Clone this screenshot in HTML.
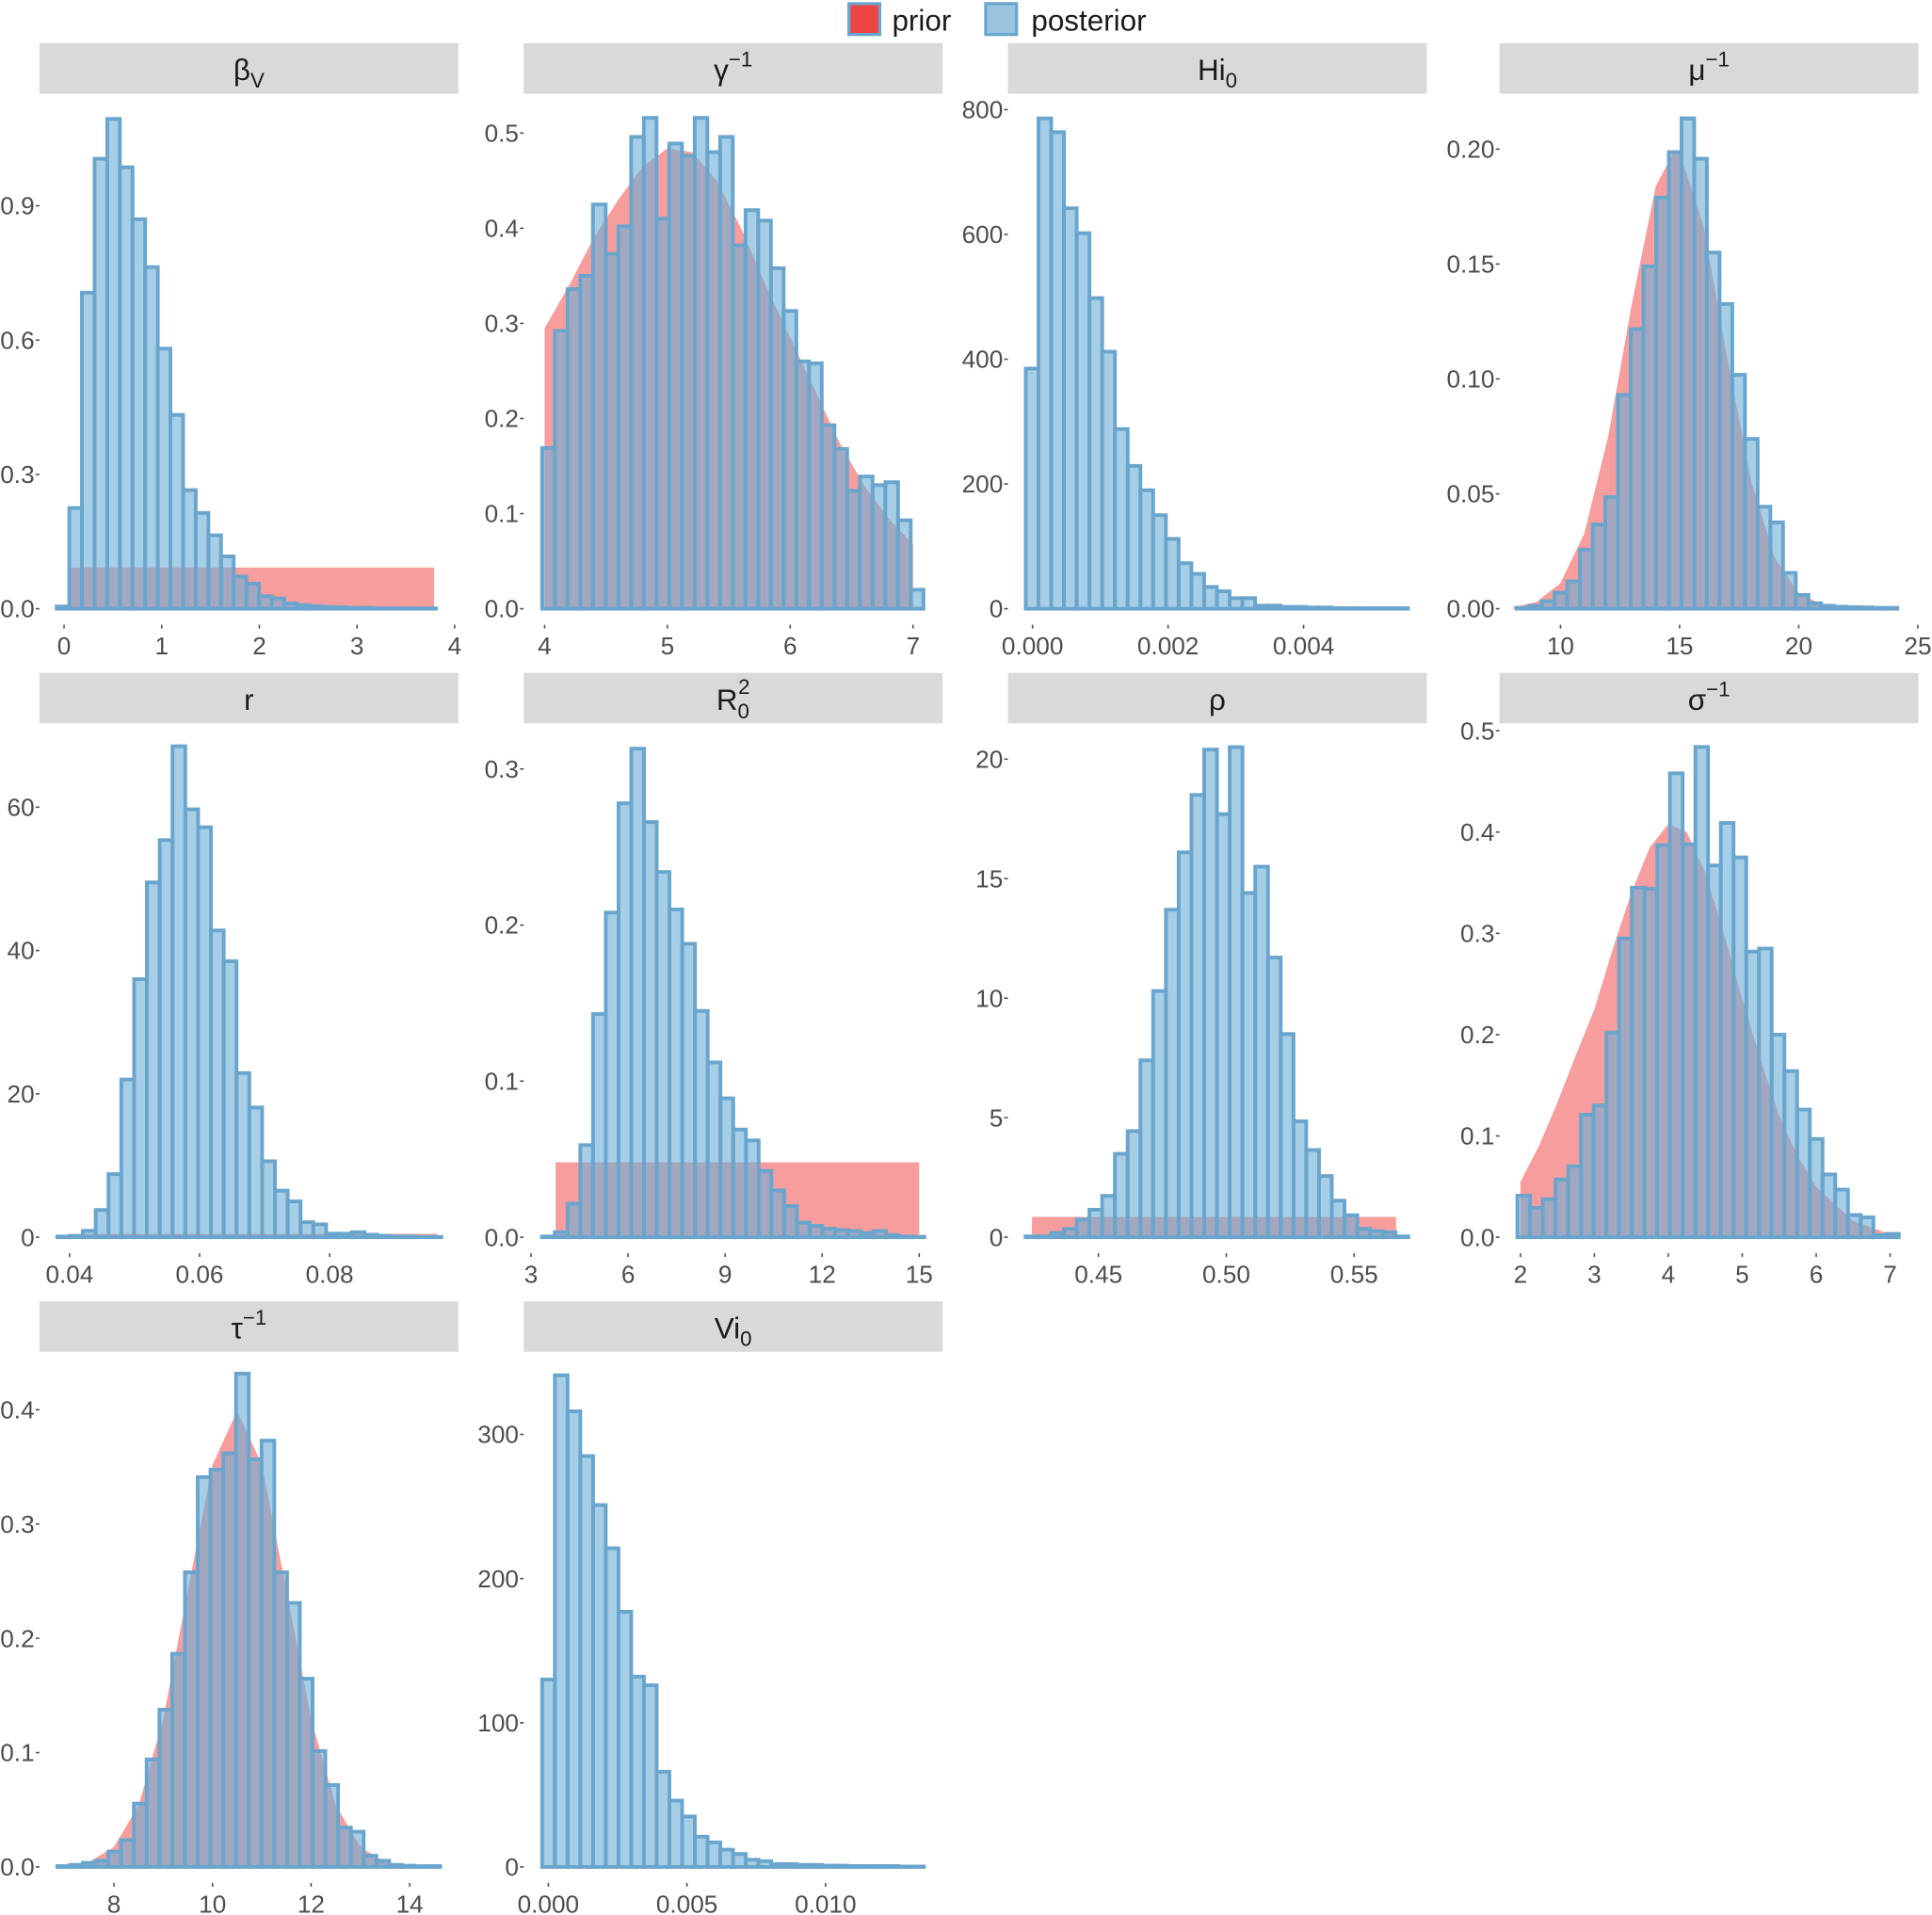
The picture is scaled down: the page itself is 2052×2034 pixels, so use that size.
<!DOCTYPE html>
<html><head><meta charset="utf-8"><style>
html,body{margin:0;padding:0;background:#fff;}
svg{display:block;font-family:"Liberation Sans",sans-serif;}
</style></head><body>
<svg id="chart" xmlns="http://www.w3.org/2000/svg" width="2052" height="2034" viewBox="0 0 1568 1554" preserveAspectRatio="none">
<g>
 <rect x="689" y="3" width="25" height="25" fill="#ef4444" stroke="#6aa5cd" stroke-width="2.5"/>
 <text x="724" y="25" font-size="24" fill="#1a1a1a">prior</text>
 <rect x="800" y="3" width="25" height="25" fill="#9ac5e0" stroke="#6aa5cd" stroke-width="2.5"/>
 <text x="837" y="25" font-size="24" fill="#1a1a1a">posterior</text>
</g>
</svg>
<script>
// ---------- data ----------
const betaV_counts=[0.005,0.225,0.706,1.005,1.094,0.986,0.870,0.763,0.581,0.433,0.265,0.214,0.164,0.117,0.072,0.056,0.028,0.023,0.012,0.008,0.006,0.004,0.003,0.002,0.002,0.001,0.001,0.001,0.001,0.001];
const betaV_xticks=[0,1,2,3,4];
const betaV_yticks=[0,0.3,0.6,0.9];
const betaV_ylabels=["0.0","0.3","0.6","0.9"];
const betaV_prior=[0.04,3.79,0.092];

const gamma_counts=[0.169,0.292,0.336,0.350,0.425,0.373,0.402,0.496,0.516,0.410,0.489,0.476,0.516,0.480,0.496,0.382,0.419,0.408,0.358,0.313,0.260,0.258,0.193,0.168,0.124,0.139,0.130,0.133,0.093,0.020];
const gamma_xticks=[4,5,6,7];
const gamma_yticks=[0,0.1,0.2,0.3,0.4,0.5];
const gamma_ylabels=["0.0","0.1","0.2","0.3","0.4","0.5"];
const gamma_prior_x=[4,4.2,4.4,4.6,4.8,5.0,5.2,5.4,5.6,5.8,6.0,6.2,6.4,6.6,6.8,7.0];
const gamma_prior_y=[0.295,0.34,0.39,0.43,0.465,0.484,0.48,0.45,0.40,0.34,0.285,0.23,0.175,0.13,0.095,0.068];

const hi0_counts=[385,786,764,642,602,498,412,288,229,190,150,112,73,56,35,28,17,17,5,5,3,3,2,2,1,1,1,1,1,1];
const hi0_xticks=[0,0.002,0.004];
const hi0_xlabels=["0.000","0.002","0.004"];
const hi0_yticks=[0,200,400,600,800];

const mu_counts=[0.0004,0.0013,0.0033,0.007,0.0119,0.0257,0.0367,0.0486,0.093,0.1217,0.149,0.1789,0.1987,0.2134,0.1958,0.155,0.1326,0.1018,0.0739,0.0444,0.0376,0.0156,0.006,0.0024,0.0013,0.0009,0.0007,0.0006,0.0004,0.0004];
const mu_xticks=[10,15,20,25];
const mu_yticks=[0,0.05,0.10,0.15,0.20];
const mu_ylabels=["0.00","0.05","0.10","0.15","0.20"];
const mu_prior_x=[8,9,10,11,12,13,14,14.8,15,16,17,18,19,20,21,22];
const mu_prior_y=[0.0006,0.003,0.0112,0.0328,0.0749,0.133,0.184,0.1995,0.1985,0.1667,0.109,0.0555,0.022,0.0068,0.0016,0.0003];

const r_counts=[0.1,0.2,0.9,3.8,8.8,22,36,49.5,55.4,68.5,59.7,57.2,42.8,38.5,22.9,18.1,10.6,6.5,5,2.1,1.8,0.5,0.5,0.7,0.35,0.2,0.1,0.1,0.05,0.05];
const r_xticks=[0.04,0.06,0.08];
const r_xlabels=["0.04","0.06","0.08"];
const r_yticks=[0,20,40,60];
const r_prior=[0.042,0.0965,0.47];

const r0_counts=[0.0005,0.0032,0.0215,0.059,0.143,0.208,0.278,0.313,0.266,0.234,0.210,0.188,0.145,0.112,0.089,0.069,0.062,0.0425,0.030,0.020,0.0094,0.0073,0.0054,0.0046,0.004,0.0027,0.004,0.0013,0.0005,0.0003];
const r0_xticks=[3,6,9,12,15];
const r0_yticks=[0,0.1,0.2,0.3];
const r0_ylabels=["0.0","0.1","0.2","0.3"];
const r0_prior=[3.76,15,0.048];

const rho_counts=[0.035,0.035,0.18,0.35,0.74,1.15,1.73,3.49,4.44,7.4,10.3,13.7,16.1,18.5,20.4,17.7,20.5,14.4,15.5,11.7,8.5,4.85,3.65,2.56,1.53,0.92,0.35,0.26,0.21,0.035];
const rho_xticks=[0.45,0.50,0.55];
const rho_xlabels=["0.45","0.50","0.55"];
const rho_yticks=[0,5,10,15,20];
const rho_prior=[0.424,0.5664,0.85];

const sigma_counts=[0.041,0.029,0.0375,0.057,0.07,0.121,0.130,0.202,0.295,0.345,0.344,0.387,0.458,0.388,0.484,0.367,0.409,0.375,0.282,0.285,0.200,0.164,0.126,0.097,0.062,0.047,0.022,0.0196,0.0021,0.0033];
const sigma_xticks=[2,3,4,5,6,7];
const sigma_yticks=[0,0.1,0.2,0.3,0.4,0.5];
const sigma_ylabels=["0.0","0.1","0.2","0.3","0.4","0.5"];
const sigma_prior_x=[2,2.25,2.5,2.75,3,3.25,3.5,3.75,4,4.25,4.5,4.75,5,5.25,5.5,5.75,6,6.5,7];
const sigma_prior_y=[0.055,0.09,0.133,0.18,0.225,0.285,0.34,0.385,0.408,0.40,0.36,0.30,0.235,0.175,0.12,0.08,0.05,0.016,0.003];

const tau_counts=[0.0007,0.0018,0.0036,0.0054,0.0134,0.0235,0.0554,0.0941,0.1376,0.1865,0.2578,0.341,0.3476,0.362,0.4316,0.3566,0.373,0.2578,0.2310,0.1647,0.1014,0.0717,0.0344,0.0308,0.0098,0.0054,0.0018,0.0011,0.0007,0.0007];
const tau_xticks=[8,10,12,14];
const tau_yticks=[0,0.1,0.2,0.3,0.4];
const tau_ylabels=["0.0","0.1","0.2","0.3","0.4"];
const tau_prior_x=[7,7.5,8,8.5,9,9.5,10,10.5,11,11.5,12,12.5,13,13.5,14];
const tau_prior_y=[0.0009,0.0044,0.0175,0.054,0.1295,0.242,0.352,0.399,0.352,0.242,0.1295,0.054,0.0175,0.0044,0.0009];

const vi0_counts=[130,341,316,285,251,221,177,132,126,66,46,35,21,17,12,9,5,4,2,2,1.4,1.4,0.9,0.9,0.6,0.6,0.6,0.6,0.3,0.3];
const vi0_xticks=[0,0.005,0.010];
const vi0_xlabels=["0.000","0.005","0.010"];
const vi0_yticks=[0,100,200,300];

// ---------- layout (pixel calibration, not data) ----------
const colX=[32,425,818,1217];
const rowY=[35,546,1056];
const baseY=[494,1004,1515];
const panels=[
 {key:'beta-v',title:['β',{sub:'V'}],c:0,r:0,xv:[0,4],xp:[52,369],yv:[0,0.9],yp:[494,167],start:-0.076,w:0.1295,counts:betaV_counts,xt:betaV_xticks,yt:betaV_yticks,yl:betaV_ylabels,rect:betaV_prior},
 {key:'gamma-inv',title:['γ',{sup:'−1'}],c:1,r:0,xv:[4,7],xp:[442,741],yv:[0,0.5],yp:[494,108],start:3.98,w:0.1035,counts:gamma_counts,xt:gamma_xticks,yt:gamma_yticks,yl:gamma_ylabels,cx:gamma_prior_x,cy:gamma_prior_y},
 {key:'hi0',title:['Hi',{sub:'0'}],c:2,r:0,xv:[0,0.004],xp:[838,1058],yv:[0,800],yp:[494,89],start:-0.0001,w:0.000188,counts:hi0_counts,xt:hi0_xticks,xl:hi0_xlabels,yt:hi0_yticks},
 {key:'mu-inv',title:['μ',{sup:'−1'}],c:3,r:0,xv:[10,25],xp:[1266.5,1556.5],yv:[0,0.2],yp:[494,121],start:8.15,w:0.533,counts:mu_counts,xt:mu_xticks,yt:mu_yticks,yl:mu_ylabels,cx:mu_prior_x,cy:mu_prior_y},
 {key:'r',title:['r'],c:0,r:1,xv:[0.04,0.08],xp:[56.5,267.5],yv:[0,60],yp:[1004,655],start:0.0381,w:0.00197,counts:r_counts,xt:r_xticks,xl:r_xlabels,yt:r_yticks,rect:r_prior},
 {key:'r0-squared',title:['R',{subsup:['0','2']}],c:1,r:1,xv:[3,15],xp:[431,746],yv:[0,0.3],yp:[1004,624],start:3.34,w:0.394,counts:r0_counts,xt:r0_xticks,yt:r0_yticks,yl:r0_ylabels,rect:r0_prior},
 {key:'rho',title:['ρ'],c:2,r:1,xv:[0.45,0.55],xp:[891.5,1099],yv:[0,20],yp:[1004,616],start:0.4215,w:0.00499,counts:rho_counts,xt:rho_xticks,xl:rho_xlabels,yt:rho_yticks,rect:rho_prior},
 {key:'sigma-inv',title:['σ',{sup:'−1'}],c:3,r:1,xv:[2,7],xp:[1234,1534],yv:[0,0.5],yp:[1004,593],start:1.958,w:0.172,counts:sigma_counts,xt:sigma_xticks,yt:sigma_yticks,yl:sigma_ylabels,cx:sigma_prior_x,cy:sigma_prior_y},
 {key:'tau-inv',title:['τ',{sup:'−1'}],c:0,r:2,xv:[8,14],xp:[92.5,332.5],yv:[0,0.4],yp:[1515,1144],start:6.85,w:0.259,counts:tau_counts,xt:tau_xticks,yt:tau_yticks,yl:tau_ylabels,cx:tau_prior_x,cy:tau_prior_y},
 {key:'vi0',title:['Vi',{sub:'0'}],c:1,r:2,xv:[0,0.01],xp:[445,670],yv:[0,300],yp:[1515,1164],start:-0.000222,w:0.000459,counts:vi0_counts,xt:vi0_xticks,xl:vi0_xlabels,yt:vi0_yticks}
];

const NS='http://www.w3.org/2000/svg';
const svg=document.getElementById('chart');
function mk(tag,attrs,parent){const e=document.createElementNS(NS,tag);for(const k in attrs)e.setAttribute(k,attrs[k]);parent.appendChild(e);return e;}
function xScale(p){return v=>p.xp[0]+(v-p.xv[0])*(p.xp[1]-p.xp[0])/(p.xv[1]-p.xv[0]);}
function yScale(p){return v=>p.yp[0]+(v-p.yv[0])*(p.yp[1]-p.yp[0])/(p.yv[1]-p.yv[0]);}

panels.forEach(p=>{
 const X=xScale(p),Y=yScale(p);
 const g=mk('g',{},svg);
 
 
 const sx=colX[p.c],sy=rowY[p.r];
 // strip
 const strip=mk('rect',{x:sx,y:sy,width:340,height:41,fill:'#d9d9d9'},g);
 
 
 const t=mk('text',{x:sx+170,y:sy+30,'font-size':24,fill:'#1a1a1a','text-anchor':'middle'},g);
 
 
 p.title.forEach(part=>{
  if(typeof part==='string'){const s=mk('tspan',{},t);s.textContent=part;}
  else if(part.sub){const s=mk('tspan',{'font-size':17,dy:6},t);s.textContent=part.sub;}
  else if(part.sup){const s=mk('tspan',{'font-size':17,dy:-11},t);s.textContent=part.sup;}
  else if(part.subsup){const s1=mk('tspan',{'font-size':17,dy:7},t);s1.textContent=part.subsup[0];
   const s2=mk('tspan',{'font-size':17,dx:-9,dy:-20},t);s2.textContent=part.subsup[1];}
 });
 // prior
 if(p.rect){
  const pr=mk('rect',{x:X(p.rect[0]),y:Y(p.rect[2]),width:X(p.rect[1])-X(p.rect[0]),height:Y(0)-Y(p.rect[2]),fill:'rgba(239,68,68,0.52)'},g);
  
  
 }
 if(p.cx){
  let d='M'+X(p.cx[0])+','+Y(0);
  p.cx.forEach((v,i)=>{d+=' L'+X(v)+','+Y(p.cy[i]);});
  d+=' L'+X(p.cx[p.cx.length-1])+','+Y(0)+' Z';
  const pr=mk('path',{d:d,fill:'rgba(239,68,68,0.52)'},g);
  
  
 }
 // bars
 p.counts.forEach((v,i)=>{
  const x0=X(p.start+i*p.w),x1=X(p.start+(i+1)*p.w);
  const b=mk('rect',{x:x0,y:Y(v),width:x1-x0,height:Math.max(0.01,Y(0)-Y(v)),fill:'rgba(107,174,214,0.6)',stroke:'#6aa5cd','stroke-width':3},g);
  
  
 });
 // y axis
 p.yt.forEach((v,i)=>{
  const y=Y(v);
  const tk=mk('line',{x1:sx-3,x2:sx,y1:y,y2:y,stroke:'#4d4d4d','stroke-width':1.2},g);
  
  
  const l=mk('text',{x:sx-4,y:y+7,'font-size':20,fill:'#4d4d4d','text-anchor':'end'},g);
  
  
  l.textContent=p.yl?p.yl[i]:String(v);
 });
 // x axis
 const by=baseY[p.r];
 p.xt.forEach((v,i)=>{
  const x=X(v);
  const tk=mk('line',{x1:x,x2:x,y1:by+13,y2:by+16,stroke:'#4d4d4d','stroke-width':1.2},g);
  
  
  const l=mk('text',{x:x,y:by+37,'font-size':20,fill:'#4d4d4d','text-anchor':'middle'},g);
  
  
  l.textContent=p.xl?p.xl[i]:String(v);
 });
});
</script>
</body></html>
